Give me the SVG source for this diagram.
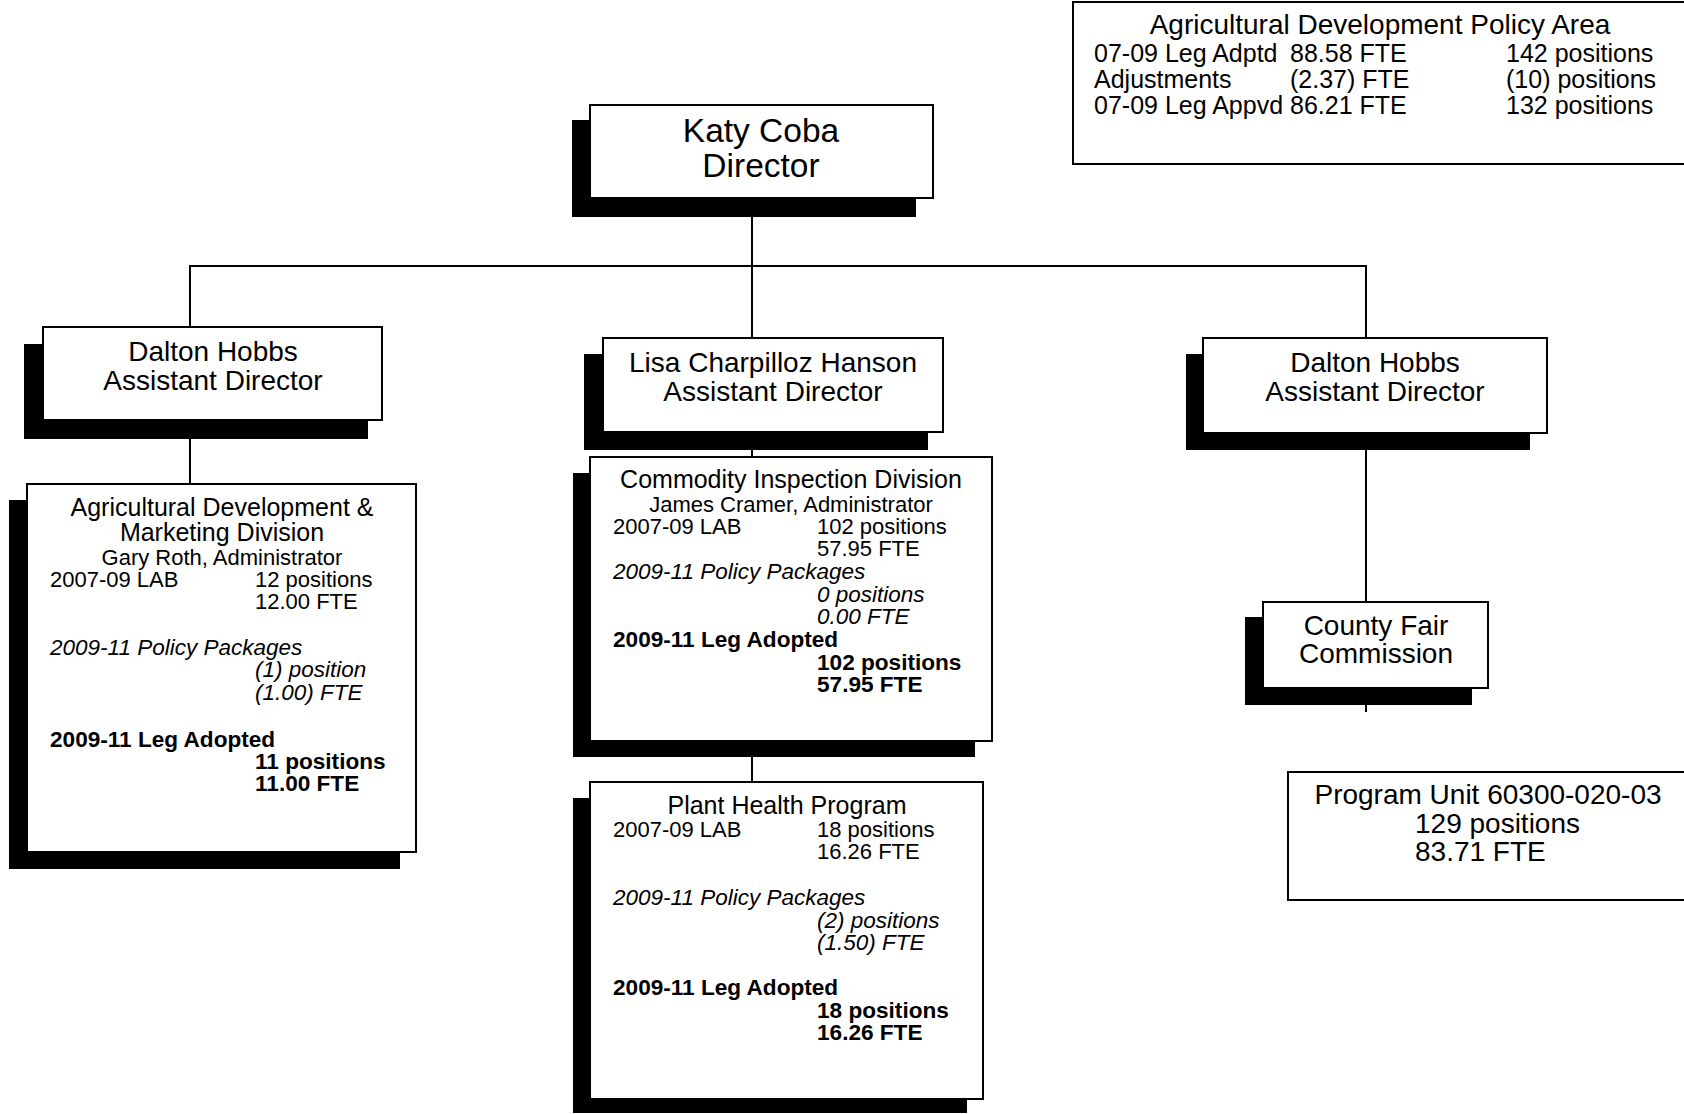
<svg xmlns="http://www.w3.org/2000/svg" width="1684" height="1114" viewBox="0 0 1684 1114">
<style>
text{font-family:"Liberation Sans",Arial,Helvetica,sans-serif;fill:#000}
.box{fill:#fff;stroke:#000;stroke-width:2}
.sh{fill:#000}
.conn{stroke:#000;stroke-width:2;fill:none}
.t33{font-size:33.5px}
.t28{font-size:28px}
.t25{font-size:25px}
.t22{font-size:22px}
.c{text-anchor:middle}
.i{font-style:italic;font-size:22.5px}
.b{font-weight:bold;font-size:22.6px}
</style>
<rect width="1684" height="1114" fill="#fff"/>
<g id="connectors">
<line class="conn" x1="752" y1="199" x2="752" y2="266"/>
<line class="conn" x1="189" y1="266" x2="1367" y2="266"/>
<line class="conn" x1="190" y1="266" x2="190" y2="328"/>
<line class="conn" x1="190" y1="438" x2="190" y2="484"/>
<line class="conn" x1="752" y1="266" x2="752" y2="338"/>
<line class="conn" x1="752" y1="450" x2="752" y2="457"/>
<line class="conn" x1="752" y1="757" x2="752" y2="782"/>
<line class="conn" x1="1366" y1="266" x2="1366" y2="338"/>
<line class="conn" x1="1366" y1="450" x2="1366" y2="602"/>
<line class="conn" x1="1366" y1="705" x2="1366" y2="712"/>
</g>
<g id="policy-area">
<rect class="box" x="1073" y="2" width="612" height="162"/>
<text class="t28 c" x="1380" y="34">Agricultural Development Policy Area</text>
<text class="t25" x="1094" y="62">07-09 Leg Adptd</text>
<text class="t25" x="1290" y="62">88.58 FTE</text>
<text class="t25" x="1506" y="62">142 positions</text>
<text class="t25" x="1094" y="88">Adjustments</text>
<text class="t25" x="1290" y="88">(2.37) FTE</text>
<text class="t25" x="1506" y="88">(10) positions</text>
<text class="t25" x="1094" y="114">07-09 Leg Appvd</text>
<text class="t25" x="1290" y="114">86.21 FTE</text>
<text class="t25" x="1506" y="114">132 positions</text>
</g>
<g id="director">
<rect class="sh" x="572" y="120" width="344" height="97"/>
<rect class="box" x="590" y="105" width="343" height="93"/>
<text class="t33 c" x="761" y="142">Katy Coba</text>
<text class="t33 c" x="761" y="177">Director</text>
</g>
<g id="ad-left">
<rect class="sh" x="24" y="344" width="344" height="95"/>
<rect class="box" x="43" y="327" width="339" height="93"/>
<text class="t28 c" x="213" y="361">Dalton Hobbs</text>
<text class="t28 c" x="213" y="390">Assistant Director</text>
</g>
<g id="ad-middle">
<rect class="sh" x="584" y="354" width="344" height="96"/>
<rect class="box" x="603" y="338" width="340" height="94"/>
<text class="t28 c" x="773" y="372">Lisa Charpilloz Hanson</text>
<text class="t28 c" x="773" y="401">Assistant Director</text>
</g>
<g id="ad-right">
<rect class="sh" x="1186" y="354" width="344" height="96"/>
<rect class="box" x="1203" y="338" width="344" height="95"/>
<text class="t28 c" x="1375" y="372">Dalton Hobbs</text>
<text class="t28 c" x="1375" y="401">Assistant Director</text>
</g>
<g id="ag-dev-marketing">
<rect class="sh" x="9" y="500" width="391" height="369"/>
<rect class="box" x="27" y="484" width="389" height="368"/>
<text class="t25 c" x="222" y="516">Agricultural Development &amp;</text>
<text class="t25 c" x="222" y="541">Marketing Division</text>
<text class="t22 c" x="222" y="565">Gary Roth, Administrator</text>
<text class="t22" x="50" y="587">2007-09 LAB</text>
<text class="t22" x="255" y="587">12 positions</text>
<text class="t22" x="255" y="609">12.00 FTE</text>
<text class="t22 i" x="50" y="655">2009-11 Policy Packages</text>
<text class="t22 i" x="255" y="677">(1) position</text>
<text class="t22 i" x="255" y="700">(1.00) FTE</text>
<text class="t22 b" x="50" y="747">2009-11 Leg Adopted</text>
<text class="t22 b" x="255" y="769">11 positions</text>
<text class="t22 b" x="255" y="791">11.00 FTE</text>
</g>
<g id="commodity-inspection">
<rect class="sh" x="573" y="473" width="402" height="284"/>
<rect class="box" x="590" y="457" width="402" height="284"/>
<text class="t25 c" x="791" y="488">Commodity Inspection Division</text>
<text class="t22 c" x="791" y="512">James Cramer, Administrator</text>
<text class="t22" x="613" y="534">2007-09 LAB</text>
<text class="t22" x="817" y="534">102 positions</text>
<text class="t22" x="817" y="556">57.95 FTE</text>
<text class="t22 i" x="613" y="579">2009-11 Policy Packages</text>
<text class="t22 i" x="817" y="602">0 positions</text>
<text class="t22 i" x="817" y="624">0.00 FTE</text>
<text class="t22 b" x="613" y="647">2009-11 Leg Adopted</text>
<text class="t22 b" x="817" y="670">102 positions</text>
<text class="t22 b" x="817" y="692">57.95 FTE</text>
</g>
<g id="plant-health">
<rect class="sh" x="573" y="798" width="394" height="315"/>
<rect class="box" x="590" y="782" width="393" height="317"/>
<text class="t25 c" x="787" y="814">Plant Health Program</text>
<text class="t22" x="613" y="837">2007-09 LAB</text>
<text class="t22" x="817" y="837">18 positions</text>
<text class="t22" x="817" y="859">16.26 FTE</text>
<text class="t22 i" x="613" y="905">2009-11 Policy Packages</text>
<text class="t22 i" x="817" y="928">(2) positions</text>
<text class="t22 i" x="817" y="950">(1.50) FTE</text>
<text class="t22 b" x="613" y="995">2009-11 Leg Adopted</text>
<text class="t22 b" x="817" y="1018">18 positions</text>
<text class="t22 b" x="817" y="1040">16.26 FTE</text>
</g>
<g id="county-fair">
<rect class="sh" x="1245" y="617" width="227" height="88"/>
<rect class="box" x="1263" y="602" width="225" height="86"/>
<text class="t28 c" x="1376" y="635">County Fair</text>
<text class="t28 c" x="1376" y="663">Commission</text>
</g>
<g id="program-unit">
<rect class="box" x="1288" y="772" width="397" height="128"/>
<text class="t28 c" x="1488" y="804">Program Unit 60300-020-03</text>
<text class="t28" x="1415" y="833">129 positions</text>
<text class="t28" x="1415" y="861">83.71 FTE</text>
</g>
</svg>
